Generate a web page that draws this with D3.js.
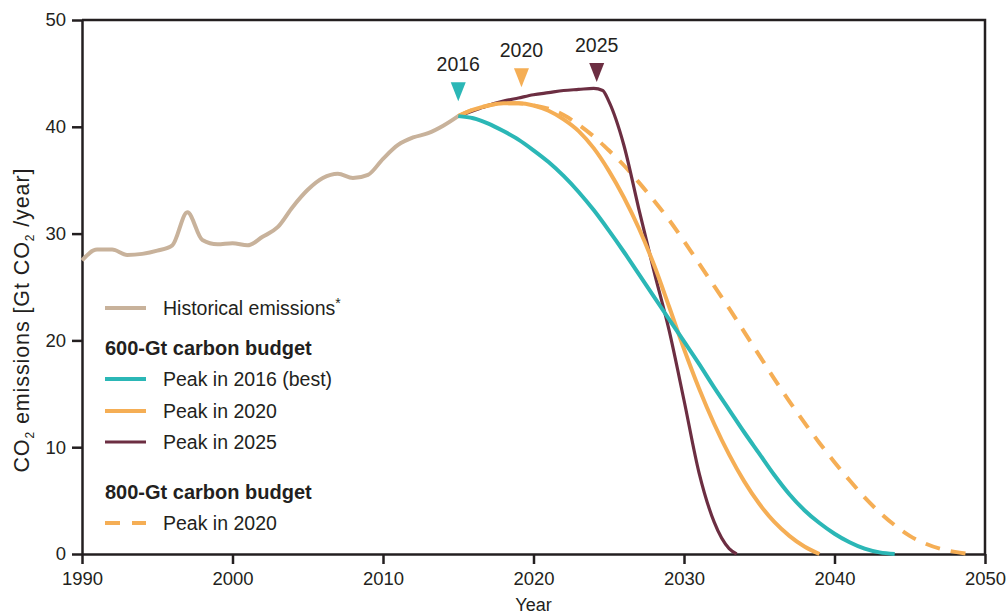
<!DOCTYPE html>
<html>
<head>
<meta charset="utf-8">
<script src="https://cdn.jsdelivr.net/npm/d3@7"></script>
<style>
  html, body { margin: 0; padding: 0; background: #fff; }
  svg { display: block; font-family: "Liberation Sans", Arial, Helvetica, sans-serif; }
</style>
</head>
<body>
<script>
// historical emissions, Gt CO2/year
const histYears = [1990, 1991, 1992, 1993, 1994, 1995, 1996, 1997, 1998, 1999, 2000, 2001, 2002,
  2003, 2004, 2005, 2006, 2007, 2008, 2009, 2010, 2011, 2012, 2013, 2014, 2015];
const histValues = [27.5, 28.5, 28.5, 28.0, 28.1, 28.4, 28.9, 32.0, 29.4, 29.0, 29.1, 28.9, 29.7,
  30.6, 32.5, 34.1, 35.2, 35.6, 35.2, 35.5, 37.0, 38.3, 39.0, 39.4, 40.1, 41.0];

// 600-Gt budget, peak in 2016
const peak2016Years = [2015, 2016, 2017, 2018, 2019, 2020, 2021, 2022, 2023, 2024, 2025, 2026, 2027,
  2028, 2029, 2030, 2031, 2032, 2033, 2034, 2035, 2036, 2037, 2038, 2039, 2040, 2041, 2042, 2043, 2044];
const peak2016Values = [41.0, 40.8, 40.3, 39.6, 38.8, 37.8, 36.7, 35.4, 33.9, 32.2, 30.3, 28.3, 26.2,
  24.1, 22.0, 19.9, 17.8, 15.6, 13.5, 11.4, 9.4, 7.4, 5.6, 4.1, 2.9, 1.9, 1.1, 0.5, 0.15, 0];

// 600-Gt budget, peak in 2020
const peak2020Years = [2015, 2016, 2017, 2018, 2019, 2020, 2021, 2022, 2023, 2024, 2025, 2026, 2027,
  2028, 2029, 2030, 2031, 2032, 2033, 2034, 2035, 2036, 2037, 2038, 2039];
const peak2020Values = [41.0, 41.6, 42.0, 42.2, 42.2, 42.0, 41.5, 40.7, 39.6, 38.0, 35.9, 33.4, 30.5,
  27.1, 23.2, 19.2, 15.5, 12.2, 9.3, 6.8, 4.7, 3.0, 1.7, 0.7, 0];

// 600-Gt budget, peak in 2025
const peak2025Years = [2015, 2016, 2017, 2018, 2019, 2020, 2021, 2022, 2023, 2024, 2024.6, 2025, 2026,
  2027, 2028, 2029, 2030, 2031, 2032, 2033, 2033.5];
const peak2025Values = [41.0, 41.5, 42.0, 42.4, 42.7, 43.0, 43.2, 43.4, 43.5, 43.6, 43.4, 42.4, 38.3,
  32.3, 26.5, 21.0, 14.4, 7.6, 3.0, 0.5, 0];

// 800-Gt budget, peak in 2020
const budget800Years = [2015, 2016, 2017, 2018, 2019, 2020, 2021, 2022, 2023, 2024, 2025, 2026, 2027,
  2028, 2029, 2030, 2031, 2032, 2033, 2034, 2035, 2036, 2037, 2038, 2039, 2040, 2041, 2042, 2043,
  2044, 2045, 2046, 2047, 2048, 2049];
const budget800Values = [41.0, 41.6, 42.0, 42.2, 42.2, 42.0, 41.7, 41.1, 40.2, 39.1, 37.8, 36.4, 34.8,
  33.1, 31.3, 29.3, 27.2, 25.1, 23.0, 20.8, 18.6, 16.4, 14.3, 12.3, 10.4, 8.6, 6.9, 5.3, 3.9,
  2.7, 1.7, 1.0, 0.5, 0.2, 0];

// peak markers
const markerLabels = ['2016', '2020', '2025'];
const markerYears = [2015.0, 2019.2, 2024.2];
const markerTips = [42.4, 43.7, 44.2];

const xTicks = [1990, 2000, 2010, 2020, 2030, 2040, 2050];
const yTicks = [0, 10, 20, 30, 40, 50];

const colors = {
  hist: '#c8b29b',
  teal: '#2bb7b6',
  orange: '#f5ae55',
  maroon: '#6c2e42',
  ink: '#231f20',
};

const width = 1007;
const height = 615;
const margins = { top: 20, right: 22, bottom: 61, left: 82 };

const xScale = d3.scaleLinear([1990, 2050], [margins.left, width - margins.right]);
const yScale = d3.scaleLinear([0, 50], [height - margins.bottom, margins.top]);

const svg = d3.select('body').append('svg')
  .attr('width', width)
  .attr('height', height);

// frame top and right
svg.append('path')
  .attr('d', `M${xScale(1990)},${yScale(50)}H${xScale(2050)}V${yScale(0)}`)
  .attr('fill', 'none')
  .attr('stroke', colors.ink)
  .attr('stroke-width', 2.5);

// axes
const gx = svg.append('g')
  .attr('transform', `translate(0, ${yScale(0)})`)
  .call(d3.axisBottom(xScale).tickValues(xTicks).tickFormat(d3.format('d'))
    .tickSize(10).tickSizeOuter(0).tickPadding(8));

const gy = svg.append('g')
  .attr('transform', `translate(${xScale(1990)}, 0)`)
  .call(d3.axisLeft(yScale).tickValues(yTicks).tickSize(10).tickSizeOuter(0).tickPadding(6));

for (const g of [gx, gy]) {
  g.select('.domain').attr('stroke', colors.ink).attr('stroke-width', 2.5);
  g.selectAll('.tick line').attr('stroke', colors.ink).attr('stroke-width', 2.5);
  g.selectAll('.tick text')
    .attr('fill', colors.ink)
    .attr('font-size', 18.5)
    .attr('font-family', '"Liberation Sans", Arial, sans-serif');
}

// axis titles
svg.append('text')
  .attr('x', xScale(2020))
  .attr('y', 611)
  .attr('text-anchor', 'middle')
  .attr('font-size', 18)
  .attr('fill', colors.ink)
  .text('Year');

const yTitle = svg.append('text')
  .attr('transform', `translate(29, ${yScale(21.9)}) rotate(-90)`)
  .attr('text-anchor', 'middle')
  .attr('font-size', 21.5)
  .attr('letter-spacing', 0.9)
  .attr('fill', colors.ink);
yTitle.append('tspan').text('CO');
yTitle.append('tspan').attr('font-size', 12).attr('dy', 5).text('2');
yTitle.append('tspan').attr('dy', -5).text(' emissions [Gt CO');
yTitle.append('tspan').attr('font-size', 12).attr('dy', 5).text('2');
yTitle.append('tspan').attr('dy', -5).text(' /year]');

// lines
const line = d3.line()
  .x(d => xScale(d[0]))
  .y(d => yScale(d[1]))
  .curve(d3.curveMonotoneX);

const zip = (a, b) => a.map((d, i) => [d, b[i]]);

const series = [
  { id: 'hist', pts: zip(histYears, histValues), color: colors.hist, w: 4, dash: null },
  { id: 'b800', pts: zip(budget800Years, budget800Values), color: colors.orange, w: 4, dash: '15,11' },
  { id: 'p2025', pts: zip(peak2025Years, peak2025Values), color: colors.maroon, w: 3.2, dash: null },
  { id: 'p2020', pts: zip(peak2020Years, peak2020Values), color: colors.orange, w: 4, dash: null },
  { id: 'p2016', pts: zip(peak2016Years, peak2016Values), color: colors.teal, w: 4, dash: null },
];

svg.append('g')
  .selectAll('path')
  .data(series)
  .join('path')
  .attr('d', d => line(d.pts))
  .attr('fill', 'none')
  .attr('stroke', d => d.color)
  .attr('stroke-width', d => d.w)
  .attr('stroke-dasharray', d => d.dash)
  .attr('stroke-linejoin', 'round');

// peak markers
const markerColors = [colors.teal, colors.orange, colors.maroon];
const markers = svg.append('g')
  .selectAll('g')
  .data(markerLabels.map((l, i) => ({ label: l, year: markerYears[i], tip: markerTips[i], color: markerColors[i] })))
  .join('g')
  .attr('transform', d => `translate(${xScale(d.year)}, ${yScale(d.tip)})`);

markers.append('path')
  .attr('d', 'M0,0L-7.5,-19L7.5,-19Z')
  .attr('fill', d => d.color);

markers.append('text')
  .attr('y', -30)
  .attr('text-anchor', 'middle')
  .attr('font-size', 19.5)
  .attr('fill', colors.ink)
  .text(d => d.label);

// legend
const legendItems = [
  { type: 'line', label: 'Historical emissions', star: true, color: colors.hist, w: 4, y: 308 },
  { type: 'head', label: '600-Gt carbon budget', y: 348 },
  { type: 'line', label: 'Peak in 2016 (best)', color: colors.teal, w: 4, y: 379 },
  { type: 'line', label: 'Peak in 2020', color: colors.orange, w: 4, y: 411 },
  { type: 'line', label: 'Peak in 2025', color: colors.maroon, w: 3, y: 442 },
  { type: 'head', label: '800-Gt carbon budget', y: 492 },
  { type: 'line', label: 'Peak in 2020', color: colors.orange, w: 4, dash: '15,12', y: 523 },
];

const legend = svg.append('g');
for (const item of legendItems) {
  if (item.type === 'head') {
    legend.append('text')
      .attr('x', 105)
      .attr('y', item.y)
      .attr('dy', '0.35em')
      .attr('font-size', 20)
      .attr('font-weight', 'bold')
      .attr('fill', colors.ink)
      .text(item.label);
  } else {
    legend.append('line')
      .attr('x1', 105).attr('x2', 146)
      .attr('y1', item.y).attr('y2', item.y)
      .attr('stroke', item.color)
      .attr('stroke-width', item.w)
      .attr('stroke-dasharray', item.dash || null);
    const t = legend.append('text')
      .attr('x', 163)
      .attr('y', item.y)
      .attr('dy', '0.35em')
      .attr('font-size', 19.5)
      .attr('fill', colors.ink)
      .text(item.label);
    if (item.star) {
      t.append('tspan').attr('font-size', 14).attr('dy', -7).text('*');
    }
  }
}
</script>
</body>
</html>
